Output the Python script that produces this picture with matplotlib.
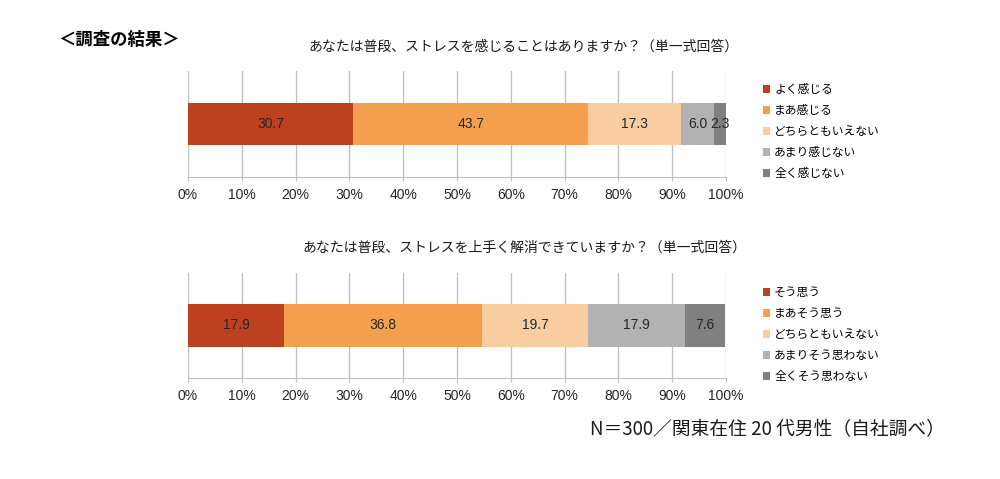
import matplotlib
matplotlib.use('Agg')
import matplotlib.pyplot as plt

plt.rcParams['font.family'] = ['Liberation Sans', 'Noto Sans CJK JP', 'DejaVu Sans']

# Data
q1_title = 'あなたは普段、ストレスを感じることはありますか？（単一式回答）'
q1_labels = ['よく感じる', 'まあ感じる', 'どちらともいえない', 'あまり感じない', '全く感じない']
q1_values = [30.7, 43.7, 17.3, 6.0, 2.3]

q2_title = 'あなたは普段、ストレスを上手く解消できていますか？（単一式回答）'
q2_labels = ['そう思う', 'まあそう思う', 'どちらともいえない', 'あまりそう思わない', '全くそう思わない']
q2_values = [17.9, 36.8, 19.7, 17.9, 7.6]

ticks = [0, 10, 20, 30, 40, 50, 60, 70, 80, 90, 100]
colors = ['#BE411F', '#F39F4E', '#F8CDA0', '#B2B2B2', '#808080']

fig = plt.figure(figsize=(10, 4.79), dpi=100)
jp = ['Noto Sans CJK JP', 'DejaVu Sans']


def draw(rect, title, labels, values, title_y, legend_y):
    ax = fig.add_axes(rect)
    left = 0
    handles = []
    for v, c, lab in zip(values, colors, labels):
        b = ax.barh(0.5, v, left=left, height=0.405, color=c, label=lab, zorder=3)
        handles.append(b)
        ax.text(left + v / 2, 0.5, f'{v:.1f}', ha='center', va='center',
                fontsize=10, color='#262626', zorder=4)
        left += v
    ax.set_xlim(0, 100)
    ax.set_ylim(0, 1)
    ax.set_xticks(ticks)
    ax.set_xticklabels([f'{t}%' for t in ticks], fontsize=10, color='#262626')
    ax.set_yticks([])
    ax.grid(axis='x', color='#BFBFBF', linewidth=0.9, zorder=0)
    for s in ['top', 'right', 'left']:
        ax.spines[s].set_visible(False)
    ax.spines['bottom'].set_color('#BFBFBF')
    ax.tick_params(axis='x', length=3, color='#BFBFBF', pad=5)
    fig.text(0.524, title_y, title, ha='center', va='center', fontsize=10,
             family=jp, color='#1a1a1a')
    fig.legend(handles=handles, loc='upper left', bbox_to_anchor=(0.763, legend_y),
               frameon=False, prop={'family': jp, 'size': 8.5},
               handlelength=0.6, handleheight=0.6, handletextpad=0.35,
               labelspacing=0.68, borderaxespad=0, borderpad=0)
    return ax


draw([0.188, 0.6305, 0.538, 0.2213], q1_title, q1_labels, q1_values,
     1 - 47 / 479, 1 - 83 / 479)
draw([0.188, 0.2109, 0.538, 0.2192], q2_title, q2_labels, q2_values,
     1 - 248 / 479, 1 - 286 / 479)

fig.text(0.058, 1 - 40 / 479, '＜調査の結果＞', ha='left', va='center',
         fontsize=12.5, fontweight='bold', family=jp)
fig.text(0.59, 1 - 430 / 479, 'N＝300／関東在住 20 代男性（自社調べ）', ha='left',
         va='center', fontsize=13.5, family=jp, color='#1a1a1a')

fig.savefig('out.png', dpi=100)
